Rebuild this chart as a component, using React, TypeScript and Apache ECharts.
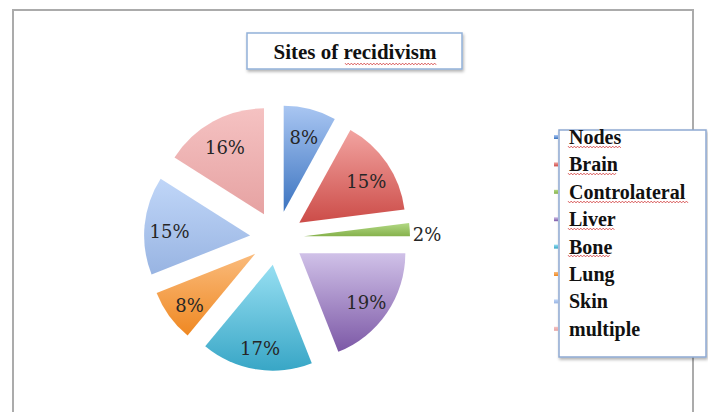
import React, { useEffect, useRef } from 'react';
import * as echarts from 'echarts';

const title = 'Sites of recidivism';
const categories = ['Nodes', 'Brain', 'Controlateral', 'Liver', 'Bone', 'Lung', 'Skin', 'multiple'];
const values = [8, 15, 2, 19, 17, 8, 15, 16];
const outsideLabelCategories = ['Controlateral'];

const topColors = ['#a9c6f2', '#f2a4a1', '#b2d884', '#d0c1e8', '#97dff2', '#fabb7c', '#c0d6f8', '#f5c2c2'];
const bottomColors = ['#3c74c0', '#cc4c48', '#86b24c', '#7c58a6', '#38a6c6', '#ef8822', '#98b4e2', '#e6a2a2'];

function squiggle(x1: number, x2: number, y: number): number[][] {
  const pts: number[][] = [];
  let up = true;
  for (let x = x1; x <= x2; x += 1.6) {
    pts.push([x, up ? y - 0.9 : y + 0.9]);
    up = !up;
  }
  return pts;
}

export default function App() {
  const ref = useRef<HTMLDivElement>(null);
  useEffect(() => {
    document.body.style.margin = '0';
    const chart = echarts.init(ref.current!, null, { renderer: 'svg' });
    const grad = (i: number) =>
      new echarts.graphic.LinearGradient(0, 0, 0, 1, [
        { offset: 0, color: topColors[i] },
        { offset: 1, color: bottomColors[i] },
      ]);

    const mainData = categories.map((name, i) => {
      const outside = outsideLabelCategories.includes(name);
      return {
        name,
        value: values[i],
        selected: true,
        itemStyle: { color: grad(i) },
        label: outside
          ? { show: true, position: 'outside' as const }
          : { show: false },
        labelLine: { show: false, length: 1, length2: 0 },
      };
    });

    const labelData = categories.map((name, i) => ({
      name,
      value: values[i],
      selected: true,
      label: { show: !outsideLabelCategories.includes(name) },
    }));

    const squiggleColor = '#d23c3c';
    const squiggles = [
      squiggle(345, 437, 64),
      squiggle(568, 621, 147),
      squiggle(568, 617, 174),
      squiggle(568, 689, 202),
      squiggle(568, 616, 229),
      squiggle(568, 611, 256),
    ];

    chart.setOption({
      animation: false,
      backgroundColor: '#ffffff',
      legend: {
        orient: 'vertical',
        left: 549,
        top: 122,
        z: 10,
        itemWidth: 4,
        itemHeight: 4,
        itemGap: 7.4,
        icon: 'rect',
        data: categories,
        selectedMode: false,
        textStyle: {
          fontFamily: 'Liberation Serif',
          fontWeight: 'bold',
          fontSize: 20,
          color: '#111',
          padding: [0, 0, 11, 6],
        },
      },
      graphic: [
        {
          type: 'rect',
          z: 0,
          shape: { x: 13, y: 10, width: 680, height: 430 },
          style: { fill: 'none', stroke: '#ababab', lineWidth: 2 },
        },
        {
          type: 'rect',
          z: 1,
          shape: { x: 247, y: 33, width: 215, height: 36 },
          style: {
            fill: '#ffffff',
            stroke: '#92b1d9',
            lineWidth: 1.5,
            shadowBlur: 3,
            shadowOffsetX: 1,
            shadowOffsetY: 2,
            shadowColor: 'rgba(0,0,0,0.3)',
          },
        },
        {
          type: 'text',
          z: 2,
          x: 355,
          y: 52,
          style: {
            text: title,
            fontFamily: 'Liberation Serif',
            fontWeight: 'bold',
            fontSize: 21,
            fill: '#111',
            align: 'center',
            verticalAlign: 'middle',
          },
        },
        {
          type: 'rect',
          z: 1,
          shape: { x: 559, y: 130, width: 147, height: 227 },
          style: {
            fill: '#ffffff',
            stroke: '#8fa9d2',
            lineWidth: 1.5,
            shadowBlur: 3,
            shadowOffsetX: 1,
            shadowOffsetY: 2,
            shadowColor: 'rgba(0,0,0,0.3)',
          },
        },
        ...squiggles.map((pts) => ({
          type: 'polyline',
          z: 20,
          shape: { points: pts },
          style: { stroke: squiggleColor, lineWidth: 0.8, fill: 'none' },
        })),
      ],
      series: [
        {
          type: 'pie',
          center: [277, 238],
          radius: [0, 106],
          startAngle: 90,
          clockwise: true,
          selectedMode: 'multiple',
          selectedOffset: 27,
          avoidLabelOverlap: false,
          emphasis: { disabled: true },
          silent: true,
          label: {
            formatter: '{c}%',
            fontFamily: 'DejaVu Serif',
            fontSize: 18,
            color: '#262626',
          },
          labelLayout: { dx: -3, dy: 5 },
          data: mainData,
        },
        {
          type: 'pie',
          center: [277, 242],
          radius: [50, 106],
          startAngle: 90,
          clockwise: true,
          selectedMode: 'multiple',
          selectedOffset: 27,
          avoidLabelOverlap: false,
          emphasis: { disabled: true },
          silent: true,
          itemStyle: { color: 'rgba(0,0,0,0)' },
          label: {
            position: 'inside',
            formatter: '{c}%',
            fontFamily: 'DejaVu Serif',
            fontSize: 18,
            color: '#262626',
          },
          labelLine: { show: false },
          data: labelData,
        },
      ],
    });
    return () => chart.dispose();
  }, []);
  return <div ref={ref} style={{ width: 708, height: 412 }} />;
}
